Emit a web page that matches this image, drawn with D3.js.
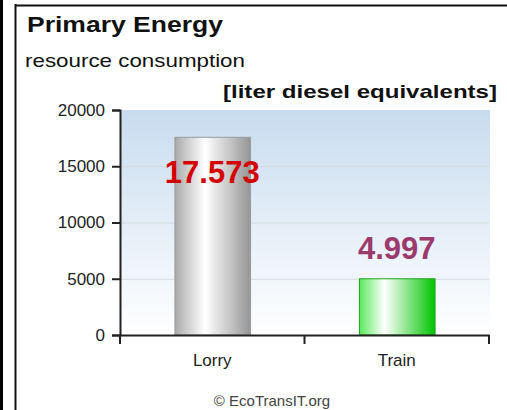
<!DOCTYPE html>
<html>
<head>
<meta charset="utf-8">
<script src="https://cdn.jsdelivr.net/npm/d3@7"></script>
<style>
  body { margin: 0; background: #fff; }
  svg { display: block; font-family: "Liberation Sans", Arial, sans-serif; }
</style>
</head>
<body>
<svg width="507" height="410"></svg>
<script>
// data
var categories = ["Lorry", "Train"];
var values = [17573, 4997];
var valueLabels = ["17.573", "4.997"];
var labelColors = ["#d40000", "#9b3a6c"];
var yTicks = [0, 5000, 10000, 15000, 20000];

var svg = d3.select("svg");

// frame lines
svg.append("rect").attr("x", 0).attr("y", 0).attr("width", 3).attr("height", 410).attr("fill", "#000");
svg.append("line").attr("x1", 15.5).attr("x2", 15.5).attr("y1", 4).attr("y2", 410)
  .attr("stroke", "#111").attr("stroke-width", 2);
svg.append("line").attr("x1", 15).attr("x2", 507).attr("y1", 5.5).attr("y2", 5.5)
  .attr("stroke", "#111").attr("stroke-width", 2);

// plot box (top is taken by window.top, so other names)
var pLeft = 120, pRight = 489, pTop = 110, pBottom = 335;

var x = d3.scaleBand().domain(categories).range([pLeft, pRight])
  .paddingInner(0.59).paddingOuter(0.295);
var y = d3.scaleLinear().domain([0, 20000]).range([pBottom, pTop]);

var defs = svg.append("defs");
var bg = defs.append("linearGradient").attr("id", "bg").attr("x1", 0).attr("x2", 0).attr("y1", 0).attr("y2", 1);
bg.append("stop").attr("offset", "0%").attr("stop-color", "#c8dcef");
bg.append("stop").attr("offset", "100%").attr("stop-color", "#ffffff");

var g1 = defs.append("linearGradient").attr("id", "grey");
g1.append("stop").attr("offset", "0%").attr("stop-color", "#aaaaaa");
g1.append("stop").attr("offset", "40%").attr("stop-color", "#ffffff");
g1.append("stop").attr("offset", "100%").attr("stop-color", "#959595");
var g2 = defs.append("linearGradient").attr("id", "green");
g2.append("stop").attr("offset", "0%").attr("stop-color", "#5be85b");
g2.append("stop").attr("offset", "33%").attr("stop-color", "#ffffff");
g2.append("stop").attr("offset", "100%").attr("stop-color", "#00c400");
var fills = ["url(#grey)", "url(#green)"];
var strokes = ["#9a9a9a", "#1fa51f"];

// plot background
svg.append("rect").attr("x", pLeft).attr("y", pTop).attr("width", pRight - pLeft + 1).attr("height", pBottom - pTop)
  .attr("fill", "url(#bg)");

// grid
svg.append("g").selectAll("line").data(yTicks.filter(function(d) { return d > 0 && d < 20000; }))
  .enter().append("line")
  .attr("x1", pLeft).attr("x2", pRight)
  .attr("y1", function(d) { return y(d) + 0.5; }).attr("y2", function(d) { return y(d) + 0.5; })
  .attr("stroke", "#d2d9e0").attr("stroke-width", 1);

// bars
svg.append("g").selectAll("rect").data(values).enter().append("rect")
  .attr("x", function(d, i) { return x(categories[i]) + 0.5; })
  .attr("y", function(d) { return y(d); })
  .attr("width", x.bandwidth())
  .attr("height", function(d) { return pBottom - y(d); })
  .attr("fill", function(d, i) { return fills[i]; })
  .attr("stroke", function(d, i) { return strokes[i]; })
  .attr("stroke-width", 1);

// y axis
var yAxis = svg.append("g").attr("transform", "translate(" + pLeft + ",0)")
  .call(d3.axisLeft(y).tickValues(yTicks).tickSize(8).tickPadding(7).tickFormat(d3.format("d")));
yAxis.select(".domain").attr("stroke", "#222").attr("stroke-width", 2);
yAxis.selectAll(".tick line").attr("stroke", "#222").attr("stroke-width", 2);
yAxis.selectAll(".tick text").attr("font-size", 17).attr("fill", "#222")
  .attr("font-family", "Liberation Sans, Arial, sans-serif");

// x axis
var xAxis = svg.append("g").attr("transform", "translate(0," + pBottom + ")")
  .call(d3.axisBottom(x).tickSize(0).tickPadding(19));
xAxis.select(".domain").attr("stroke", "#222").attr("stroke-width", 2);
xAxis.selectAll(".tick text").attr("font-size", 17).attr("fill", "#222")
  .attr("font-family", "Liberation Sans, Arial, sans-serif");
var bounds = categories.map(function(c) { return x(c) + x.bandwidth() / 2 - x.step() / 2; });
bounds.push(x(categories[categories.length - 1]) + x.bandwidth() / 2 + x.step() / 2);
xAxis.selectAll(".bound").data(bounds).enter().append("line")
  .attr("x1", function(d) { return d; }).attr("x2", function(d) { return d; })
  .attr("y1", 0).attr("y2", 9)
  .attr("stroke", "#222").attr("stroke-width", 2);

// value labels
svg.append("g").selectAll("text").data(values).enter().append("text")
  .attr("x", function(d, i) { return x(categories[i]) + x.bandwidth() / 2; })
  .attr("y", function(d) { return d > 10000 ? y(d) + 46 : y(d) - 20; })
  .attr("text-anchor", "middle")
  .attr("font-size", 31).attr("font-weight", "bold")
  .attr("fill", function(d, i) { return labelColors[i]; })
  .text(function(d, i) { return valueLabels[i]; });

// titles
svg.append("text").attr("x", 27).attr("y", 32).attr("font-size", 22).attr("font-weight", "bold")
  .attr("fill", "#111").attr("textLength", 196).attr("lengthAdjust", "spacingAndGlyphs")
  .text("Primary Energy");
svg.append("text").attr("x", 25).attr("y", 67).attr("font-size", 19)
  .attr("fill", "#111").attr("textLength", 220).attr("lengthAdjust", "spacingAndGlyphs")
  .text("resource consumption");
svg.append("text").attr("x", 497).attr("y", 98).attr("font-size", 19).attr("font-weight", "bold")
  .attr("text-anchor", "end").attr("fill", "#111").attr("textLength", 274).attr("lengthAdjust", "spacingAndGlyphs")
  .text("[liter diesel equivalents]");

svg.append("text").attr("x", 272).attr("y", 406).attr("font-size", 15).attr("text-anchor", "middle")
  .attr("fill", "#444").text("© EcoTransIT.org");
</script>
</body>
</html>
